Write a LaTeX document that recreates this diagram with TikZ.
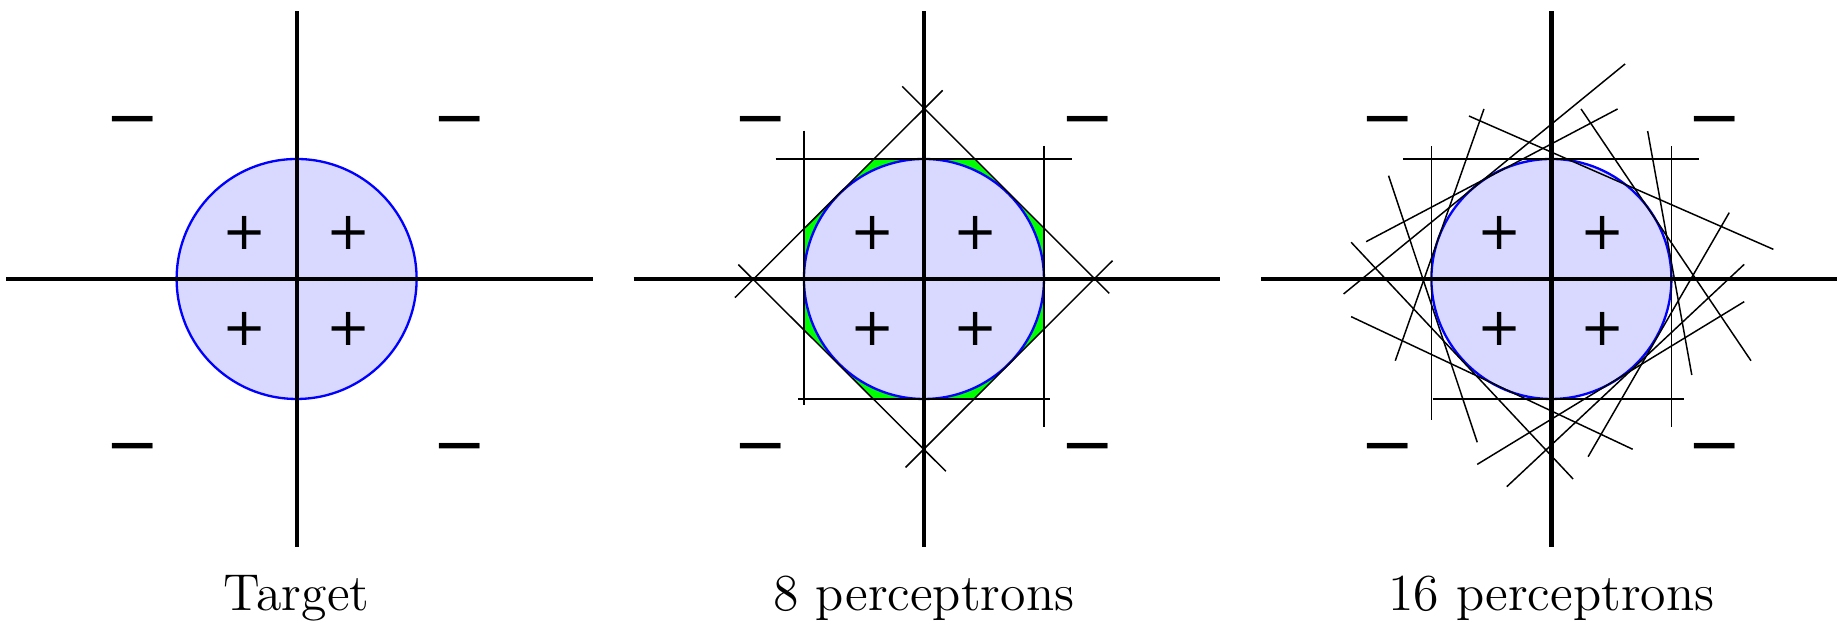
\documentclass[tikz,border=0pt]{standalone}
\usepackage{fontspec}
\newfontfamily\symfont{DejaVu Sans}
\tikzset{
  axisline/.style={line width=1pt},
  tline/.style={line width=0.35pt},
  disc/.style={draw=blue, line width=0.55pt, fill=blue!15},
  gap/.style={fill=green},
  plussign/.style={font=\symfont\fontsize{12.5}{12.5}\selectfont, inner sep=0pt},
  minussign/.style={font=\symfont\fontsize{15.4}{15.4}\selectfont, inner sep=0pt},
  caption/.style={font=\fontsize{12.3}{14}\selectfont, anchor=base, inner sep=0pt},
}
\newcommand\mysigns[1]{%
  \node[plussign] (#1pa) at (-0.43,0.386) {+};
  \node[plussign] (#1pb) at (0.43,0.386) {+};
  \node[plussign] (#1pc) at (-0.43,-0.42) {+};
  \node[plussign] (#1pd) at (0.43,-0.42) {+};
  \node[minussign] (#1ma) at (-1.362,1.262) {−};
  \node[minussign] (#1mb) at (1.362,1.262) {−};
  \node[minussign] (#1mc) at (-1.362,-1.467) {−};
  \node[minussign] (#1md) at (1.362,-1.467) {−};
}
\newcommand\myaxes{%
  \draw[axisline] (-2.42,0) -- (2.47,0);
  \draw[axisline] (0,-2.23) -- (0,2.235);
}
\begin{document}
\begin{tikzpicture}
\useasboundingbox (-2.472,-2.875) rectangle (12.837,2.325);
% ---------- Target ----------
\begin{scope}
  \draw[disc] (0,0) circle (1);
  \myaxes
  \mysigns{a}
  \node[caption] (capa) at (0,-2.76) {Target};
\end{scope}
% ---------- 8 perceptrons ----------
\begin{scope}[shift={(5.228,0)}]
  \fill[gap] (1,0.4142) -- (0.4142,1) -- (-0.4142,1) -- (-1,0.4142) -- (-1,-0.4142)
     -- (-0.4142,-1) -- (0.4142,-1) -- (1,-0.4142) -- cycle;
  \draw[disc] (0,0) circle (1);
  \draw[tline] (0.156,1.572) -- (-1.575,-0.155);
  \draw[tline] (-0.181,1.605) -- (1.544,-0.12);
  \draw[tline] (1.572,0.153) -- (-0.153,-1.57);
  \draw[tline] (-1.547,0.12) -- (0.183,-1.603);
  \draw[tline] (-1.236,1) -- (1.236,1);
  \draw[tline] (-1.047,-1) -- (1.05,-1);
  \draw[tline] (-1,1.236) -- (-1,-1.047);
  \draw[tline] (1,1.11) -- (1,-1.237);
  \myaxes
  \mysigns{b}
  \node[caption] (capb) at (0,-2.76) {8 perceptrons};
\end{scope}
% ---------- 16 perceptrons ----------
\begin{scope}[shift={(10.457,0)}]
  \draw[disc] (0,0) circle (1);
  \draw[tline] (-1.233,1) -- (1.233,1);
  \draw[tline] (-0.99,-1) -- (1.107,-1);
  \draw[tline] (-1,1.108) -- (-1,-1.175);
  \draw[tline] (1,1.108) -- (1,-1.236);
  \draw[tline] (0.614,1.792) -- (-1.732,-0.125);
  \draw[tline] (0.552,1.417) -- (-1.544,0.311);
  \draw[tline] (-0.562,1.417) -- (-1.301,-0.681);
  \draw[tline] (-0.687,1.358) -- (1.850,0.247);
  \draw[tline] (0.247,1.417) -- (1.663,-0.681);
  \draw[tline] (0.802,1.233) -- (1.170,-0.800);
  \draw[tline] (1.482,0.553) -- (0.306,-1.481);
  \draw[tline] (1.607,0.122) -- (-0.372,-1.731);
  \draw[tline] (1.607,-0.189) -- (-0.618,-1.545);
  \draw[tline] (0.677,-1.419) -- (-1.669,-0.314);
  \draw[tline] (0.181,-1.667) -- (-1.669,0.306);
  \draw[tline] (-0.618,-1.361) -- (-1.357,0.861);
  \draw[axisline] (-2.42,0) -- (2.40,0);
  \draw[axisline] (0,-2.23) -- (0,2.235);
  \mysigns{c}
  \node[caption] (capc) at (0,-2.76) {16 perceptrons};
\end{scope}
\end{tikzpicture}
\end{document}
